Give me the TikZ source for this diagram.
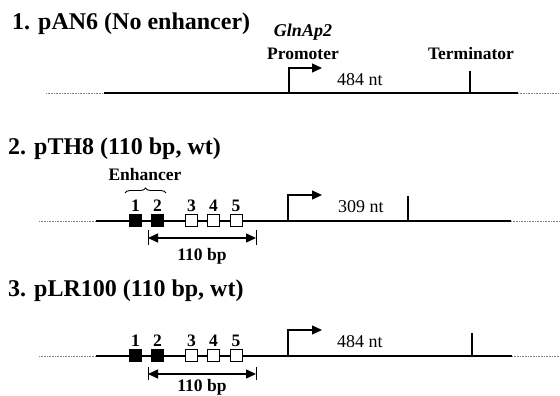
\documentclass[tikz,border=0pt]{standalone}
\usepackage{fontspec}
\setmainfont{Liberation Serif}
\usetikzlibrary{arrows.meta,positioning,decorations.pathreplacing}

\begin{document}
\begin{tikzpicture}[
        x=1pt, y=-1pt,
        title/.style={font=\fontsize{24}{28}\selectfont\bfseries, anchor=base west, inner sep=0},
        lbl/.style={font=\fontsize{17.5}{20}\selectfont\bfseries, anchor=base, inner sep=0},
        nt/.style={font=\fontsize{18}{20}\selectfont, anchor=base west, inner sep=0},
        num/.style={font=\fontsize{17.5}{20}\selectfont\bfseries, inner sep=0},
        dna/.style={line width=2.5pt},
        flank/.style={densely dotted, gray, line width=0.6pt},
        enh/.style={rectangle, draw, fill=black, minimum size=12pt, inner sep=0, line width=0.8pt},
        site/.style={rectangle, draw, fill=white, minimum size=12pt, inner sep=0, line width=0.8pt},
        prom/.style={line width=1.3pt, -{Triangle[length=10pt,width=9pt]}},
        term/.style={line width=2.5pt},
        dim/.style={line width=1.3pt, {Triangle[length=10pt,width=9pt]}-{Triangle[length=10pt,width=9pt]}},
        dimbar/.style={line width=0.9pt}
    ]
        \useasboundingbox (0,0) rectangle (560,396);

        % 1. pAN6
        \node[title] (t1) at (12,30) {1. pAN6 (No enhancer)};
        \coordinate (a0) at (46,93);
        \coordinate (a1) at (104,93);
        \coordinate (a2) at (518,93);
        \coordinate (a3) at (560,93);
        \draw[flank] (a0) -- (a1);
        \draw[dna] (a1) -- (a2);
        \draw[flank] (a2) -- (a3);
        \coordinate (ap) at (289,93);
        \coordinate (aptip) at (322,68);
        \draw[prom] (ap) |- (aptip);
        \coordinate (at) at (470,93);
        \coordinate (attop) at (470,71);
        \draw[term] (at) -- (attop);
        \node[lbl, font=\fontsize{18}{20}\selectfont\bfseries\itshape] (gln) at (303,37) {GlnAp2};
        \node[lbl] (promlbl) at (303,60) {Promoter};
        \node[lbl] (termlbl) at (471,60) {Terminator};
        \node[nt] (ntA) at (337,85) {484 nt};

        % 2. pTH8
        \node[title] (t2) at (8,154) {2. pTH8 (110 bp, wt)};
        \coordinate (b0) at (39,221);
        \coordinate (b1) at (96,221);
        \coordinate (b2) at (511,221);
        \coordinate (b3) at (560,221);
        \draw[flank] (b0) -- (b1);
        \draw[dna] (b1) -- (b2);
        \draw[flank] (b2) -- (b3);
        \node[enh] (s21) at (135.5,220) {};
        \node[enh] (s22) at (157.5,220) {};
        \node[site] (s23) at (191.5,220) {};
        \node[site] (s24) at (213.5,220) {};
        \node[site] (s25) at (236,220) {};
        \node[num, above=2pt of s21] (n21) {1};
        \node[num, above=2pt of s22] (n22) {2};
        \node[num, above=2pt of s23] (n23) {3};
        \node[num, above=2pt of s24] (n24) {4};
        \node[num, above=2pt of s25] (n25) {5};
        \node[lbl] (enhlbl) at (145,180) {Enhancer};
        \coordinate (br1) at (125,193);
        \coordinate (br2) at (166,193);
        \draw[line width=0.9pt, decorate, decoration={brace, amplitude=5pt}] (br1) -- (br2);
        \coordinate (bp) at (288,221);
        \coordinate (bptip) at (322,195);
        \draw[prom] (bp) |- (bptip);
        \coordinate (bt) at (408,221);
        \coordinate (bttop) at (408,196);
        \draw[term] (bt) -- (bttop);
        \node[nt] (ntB) at (338,212) {309 nt};
        \coordinate (bd1) at (148,238);
        \coordinate (bd2) at (256,238);
        \draw[dim] (bd1) -- (bd2);
        \draw[dimbar] ([yshift=8pt]bd1) -- ([yshift=-7pt]bd1);
        \draw[dimbar] ([yshift=8pt]bd2) -- ([yshift=-7pt]bd2);
        \node[lbl] (bplblB) at (202,260) {110 bp};

        % 3. pLR100
        \node[title] (t3) at (8,296) {3. pLR100 (110 bp, wt)};
        \coordinate (c0) at (39,356);
        \coordinate (c1) at (96,356);
        \coordinate (c2) at (512,356);
        \coordinate (c3) at (560,356);
        \draw[flank] (c0) -- (c1);
        \draw[dna] (c1) -- (c2);
        \draw[flank] (c2) -- (c3);
        \node[enh] (s31) at (135.5,355) {};
        \node[enh] (s32) at (157.5,355) {};
        \node[site] (s33) at (191.5,355) {};
        \node[site] (s34) at (213.5,355) {};
        \node[site] (s35) at (236,355) {};
        \node[num, above=2pt of s31] (n31) {1};
        \node[num, above=2pt of s32] (n32) {2};
        \node[num, above=2pt of s33] (n33) {3};
        \node[num, above=2pt of s34] (n34) {4};
        \node[num, above=2pt of s35] (n35) {5};
        \coordinate (cp) at (288,356);
        \coordinate (cptip) at (322,330);
        \draw[prom] (cp) |- (cptip);
        \coordinate (ct) at (472,356);
        \coordinate (cttop) at (472,333);
        \draw[term] (ct) -- (cttop);
        \node[nt] (ntC) at (337,347) {484 nt};
        \coordinate (cd1) at (148,374);
        \coordinate (cd2) at (256,374);
        \draw[dim] (cd1) -- (cd2);
        \draw[dimbar] ([yshift=7pt]cd1) -- ([yshift=-6pt]cd1);
        \draw[dimbar] ([yshift=7pt]cd2) -- ([yshift=-6pt]cd2);
        \node[lbl] (bplblC) at (202,391.5) {110 bp};
    \end{tikzpicture}
\end{document}
